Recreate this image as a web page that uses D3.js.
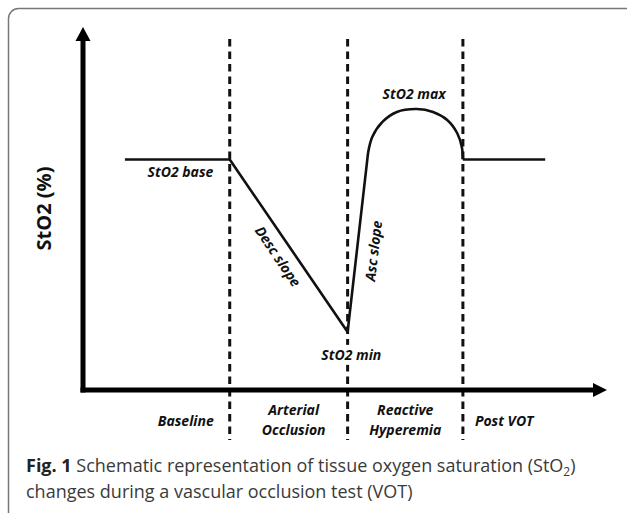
<!DOCTYPE html>
<html lang="en">
<head>
<meta charset="utf-8">
<title>StO2 during a vascular occlusion test</title>
<script src="https://d3js.org/d3.v7.min.js"></script>
<style>
  body { margin: 0; background: #fff; }
  svg text { font-family: "Open Sans", "Noto Sans", sans-serif; }
  .lbl { font-size: 14px; font-weight: bold; font-style: italic; fill: #111; }
</style>
</head>
<body>
<div id="chart"></div>
<script>
// phase boundaries (time units) and phase names
var phaseBounds = [28, 50.5, 72.5];
var phaseNames = [["Baseline"], ["Arterial", "Occlusion"], ["Reactive", "Hyperemia"], ["Post VOT"]];

// StO2 trace: baseline, descending slope, min, then ascending slope
var lineTimes  = [8, 28, 50.5, 54.4];
var lineValues = [63.5, 63.5, 16, 65.3];
// hyperemia curve (knee -> max -> back to base)
var arcTimes  = [54.4, 55.2, 57.1, 59.9, 63.7, 66.8, 69.5, 71.4, 72.3, 72.5];
var arcValues = [65.3, 69.7, 73.8, 76.6, 77.4, 76.6, 74.4, 70.8, 66.9, 63.5];
// post VOT level
var postTimes  = [72.5, 88.2];
var postValues = [63.5, 63.5];

var width = 627, height = 513;

var svg = d3.select("#chart").append("svg")
    .attr("width", width)
    .attr("height", height);

// frame
svg.append("rect")
    .attr("x", 8.5).attr("y", 8.5)
    .attr("width", 660).attr("height", 560)
    .attr("rx", 10).attr("ry", 10)
    .attr("fill", "none")
    .attr("stroke", "#777")
    .attr("stroke-width", 1.5);

var x = d3.scaleLinear().domain([0, 100]).range([83, 607]);
var y = d3.scaleLinear().domain([0, 100]).range([390, 27]);

// dashed phase separators
svg.selectAll(".sep")
  .data(phaseBounds)
  .enter().append("line")
    .attr("class", "sep")
    .attr("x1", function(d) { return x(d); })
    .attr("x2", function(d) { return x(d); })
    .attr("y1", y(96.7))
    .attr("y2", y(-13.8))
    .attr("stroke", "#111")
    .attr("stroke-width", 3)
    .attr("stroke-dasharray", "7.5,5");

// axes with arrow heads
var axisCol = "#000";
svg.append("line")
    .attr("x1", x(0)).attr("x2", x(0))
    .attr("y1", y(0) + 2.5).attr("y2", y(100) + 12)
    .attr("stroke", axisCol).attr("stroke-width", 5);
svg.append("path")
    .attr("d", "M" + x(0) + "," + y(100) + "L" + (x(0) - 7.5) + "," + (y(100) + 14) + "L" + (x(0) + 7.5) + "," + (y(100) + 14) + "Z")
    .attr("fill", axisCol);
svg.append("line")
    .attr("x1", x(0) - 2.5).attr("x2", x(100) - 12)
    .attr("y1", y(0)).attr("y2", y(0))
    .attr("stroke", axisCol).attr("stroke-width", 5);
svg.append("path")
    .attr("d", "M" + x(100) + "," + y(0) + "L" + (x(100) - 14) + "," + (y(0) - 7) + "L" + (x(100) - 14) + "," + (y(0) + 7) + "Z")
    .attr("fill", axisCol);

// trace
var lin = d3.line()
    .x(function(d) { return x(d[0]); })
    .y(function(d) { return y(d[1]); });
var smooth = d3.line()
    .x(function(d) { return x(d[0]); })
    .y(function(d) { return y(d[1]); })
    .curve(d3.curveCatmullRom.alpha(0.5));

function draw(gen, ts, vs) {
  svg.append("path")
      .datum(d3.zip(ts, vs))
      .attr("d", gen)
      .attr("fill", "none")
      .attr("stroke", "#111")
      .attr("stroke-width", 2.6)
      .attr("stroke-linejoin", "round");
}
draw(lin, lineTimes, lineValues);
draw(smooth, arcTimes, arcValues);
draw(lin, postTimes, postValues);

// annotations
svg.append("text").attr("class", "lbl")
    .attr("x", x(18.6)).attr("y", y(58.6))
    .attr("text-anchor", "middle").text("StO2 base");
svg.append("text").attr("class", "lbl")
    .attr("x", x(63.2)).attr("y", y(80.2))
    .attr("text-anchor", "middle").text("StO2 max");
// white gap behind the min label (the dashed line is interrupted there)
svg.append("rect")
    .attr("x", x(51.2) - 31).attr("y", y(8.3) - 15)
    .attr("width", 62).attr("height", 20)
    .attr("fill", "#fff");
svg.append("text").attr("class", "lbl")
    .attr("x", x(51.2)).attr("y", y(8.3))
    .attr("text-anchor", "middle").text("StO2 min");
svg.append("text").attr("class", "lbl")
    .attr("text-anchor", "middle")
    .attr("dominant-baseline", "middle")
    .attr("transform", "translate(" + x(37) + "," + y(36.6) + ") rotate(56)")
    .text("Desc slope");
svg.append("text").attr("class", "lbl")
    .attr("text-anchor", "middle")
    .attr("dominant-baseline", "middle")
    .attr("transform", "translate(" + x(55.7) + "," + y(38.3) + ") rotate(-83)")
    .text("Asc slope");

// phase labels below the x axis
var labelX = [x(phaseBounds[0]) - 16, (x(phaseBounds[0]) + x(phaseBounds[1])) / 2 + 5,
              (x(phaseBounds[1]) + x(phaseBounds[2])) / 2, x(phaseBounds[2]) + 12];
var anchors = ["end", "middle", "middle", "start"];
phaseNames.forEach(function(lines, i) {
  var t = svg.append("text").attr("class", "lbl")
      .attr("text-anchor", anchors[i])
      .attr("x", labelX[i]);
  if (lines.length === 1) {
    t.attr("y", 426).text(lines[0]);
  } else {
    lines.forEach(function(s, j) {
      t.append("tspan").attr("x", labelX[i]).attr("y", 415 + j * 19.5).text(s);
    });
  }
});

// y axis title
svg.append("text")
    .attr("transform", "translate(51," + ((y(0) + y(100)) / 2) + ") rotate(-90)")
    .attr("text-anchor", "middle")
    .style("font-size", "20px")
    .style("font-weight", "bold")
    .style("fill", "#111")
    .text("StO2 (%)");

// caption
var cap1 = svg.append("text")
    .attr("x", 26).attr("y", 472)
    .style("font-size", "18px")
    .style("fill", "#3a3a3a");
cap1.append("tspan").style("font-weight", "bold").style("fill", "#222").text("Fig. 1");
cap1.append("tspan").text(" Schematic representation of tissue oxygen saturation (StO");
cap1.append("tspan").style("font-size", "12px").attr("dy", 4).text("2");
cap1.append("tspan").attr("dy", -4).text(")");

svg.append("text")
    .attr("x", 26).attr("y", 497.5)
    .style("font-size", "18px")
    .style("fill", "#3a3a3a")
    .text("changes during a vascular occlusion test (VOT)");
</script>
</body>
</html>
